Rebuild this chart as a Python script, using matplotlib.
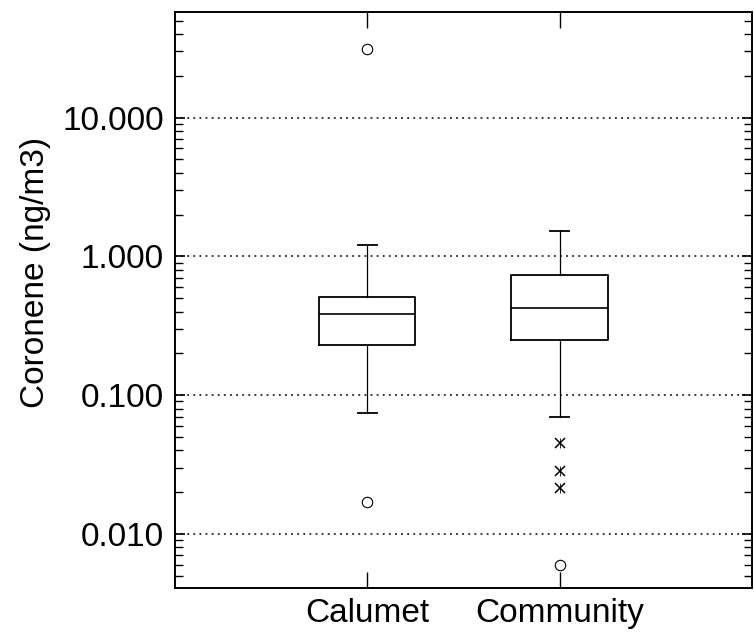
import matplotlib
matplotlib.use("Agg")
import matplotlib.pyplot as plt
from matplotlib.ticker import FixedLocator, FixedFormatter, LogLocator, NullFormatter

# Box statistics (ng/m3)
sites = ["Calumet", "Community"]
q1 = [0.230, 0.251]
median = [0.385, 0.423]
q3 = [0.507, 0.729]
whisker_low = [0.0746, 0.0701]
whisker_high = [1.217, 1.52]

# far outliers (open circles) and near outliers (asterisks)
far_site = [1, 1, 2]
far_value = [31.5, 0.0170, 0.00597]
near_site = [2, 2, 2]
near_value = [0.0454, 0.0285, 0.0215]

ytick_values = [0.01, 0.1, 1, 10]
ytick_labels = ["0.010", "0.100", "1.000", "10.000"]

plt.rcParams["font.family"] = ["Liberation Sans", "DejaVu Sans"]

fig = plt.figure(figsize=(7.54, 6.36), dpi=100)
ax = fig.add_axes([0.2321, 0.0755, 0.765, 0.9057])

stats = []
for i, name in enumerate(sites):
    stats.append({"label": name, "med": median[i], "q1": q1[i], "q3": q3[i],
                  "whislo": whisker_low[i], "whishi": whisker_high[i], "fliers": []})

ax.bxp(stats, positions=[1, 2], widths=0.5, capwidths=0.1, showfliers=False,
       boxprops=dict(color="black", linewidth=1.3),
       medianprops=dict(color="black", linewidth=1.2),
       whiskerprops=dict(color="black", linewidth=0.9),
       capprops=dict(color="black", linewidth=1.3))

ax.plot(far_site, far_value, linestyle="none", marker="o", markersize=7.5,
        markerfacecolor="white", markeredgecolor="black", markeredgewidth=0.8, zorder=3)
# asterisk: an x with a thin vertical stroke
ax.plot(near_site, near_value, linestyle="none", marker="x", markersize=6.5,
        color="black", markeredgewidth=1.1, zorder=3)
ax.plot(near_site, near_value, linestyle="none", marker="|", markersize=7,
        color="black", markeredgewidth=0.6, zorder=3)

ax.set_yscale("log")
ax.set_ylim(0.00407, 57.8)
ax.set_xlim(0, 3)

ax.yaxis.set_major_locator(FixedLocator(ytick_values))
ax.yaxis.set_major_formatter(FixedFormatter(ytick_labels))
ax.yaxis.set_minor_locator(LogLocator(base=10, subs=range(2, 10)))
ax.yaxis.set_minor_formatter(NullFormatter())
ax.set_xticks([1, 2])
ax.set_xticklabels(sites)

ax.grid(axis="y", which="major", color="black", linestyle=(0, (1.2, 2.8)), linewidth=1.1)
ax.set_axisbelow(True)

ax.tick_params(axis="y", which="major", direction="in", left=True, right=True,
               length=7, width=1.2, labelsize=24, pad=8)
ax.tick_params(axis="y", which="minor", direction="in", left=True, right=True,
               length=6, width=1.0)
ax.tick_params(axis="x", which="major", direction="in", top=True, bottom=True,
               length=11.5, width=1.0, labelsize=24, pad=7)

for s in ax.spines.values():
    s.set_linewidth(1.4)

ax.set_ylabel("Coronene (ng/m3)", fontsize=24, va="center")
ax.yaxis.set_label_coords(-0.2426, 0.547)

fig.savefig("out.png", dpi=100)
